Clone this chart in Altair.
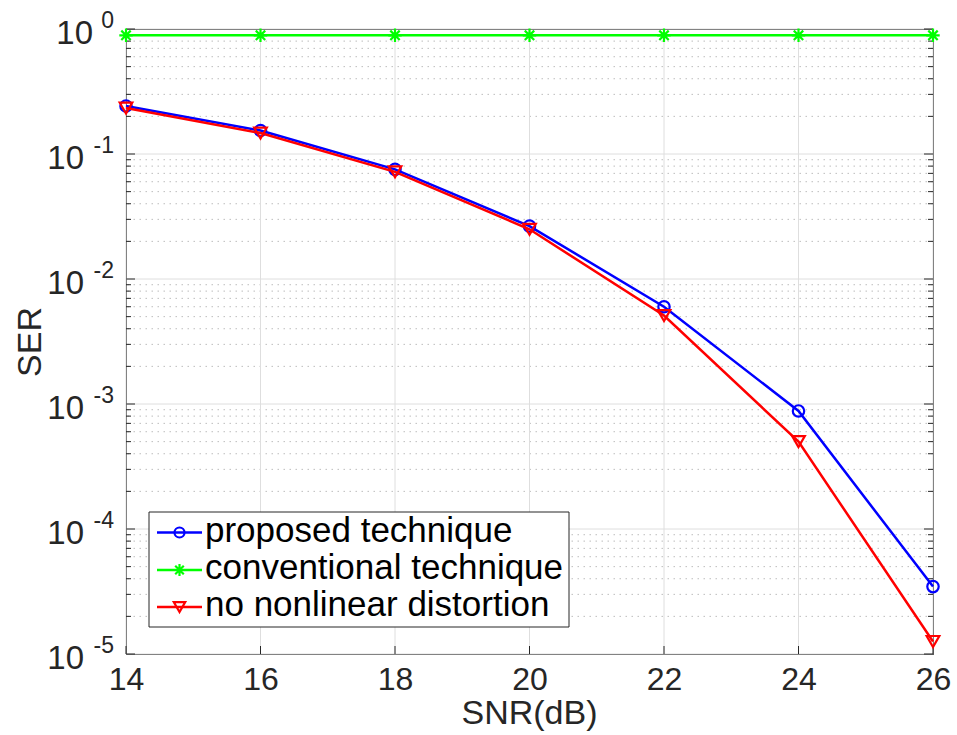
import altair as alt
import pandas as pd

# ---------------- data ----------------
snr = [14, 16, 18, 20, 22, 24, 26]
ser_proposed = [0.242, 0.154, 0.0754, 0.0265, 0.0060, 0.00088, 3.46e-5]
ser_conventional = [0.89, 0.89, 0.89, 0.89, 0.89, 0.89, 0.89]
ser_nonlinear = [0.233, 0.147, 0.072, 0.025, 0.0051, 0.0005, 1.26e-5]

series_names = ["proposed technique", "conventional technique", "no nonlinear distortion"]
series_values = [ser_proposed, ser_conventional, ser_nonlinear]
series_colors = ["#0000ff", "#00ff00", "#ff0000"]
ASTERISK = "M-1,0L1,0M0,-1L0,1M-0.7,-0.7L0.7,0.7M-0.7,0.7L0.7,-0.7"
series_shapes = ["circle", ASTERISK, "triangle-down"]
series_sizes = [130, 180, 160]

x_ticks = [14, 16, 18, 20, 22, 24, 26]
y_decades = [1, 0.1, 0.01, 0.001, 0.0001, 0.00001]
y_exponents = ["0", "-1", "-2", "-3", "-4", "-5"]
y_minor = [m * 10.0 ** k for k in range(-5, 0) for m in range(2, 10)]

# ---------------- layout ----------------
W, H = 807, 625
FONT = "Liberation Sans"
DARK = "#262626"

xs = alt.Scale(domain=[14, 26], nice=False, zero=False)
ys = alt.Scale(type="log", domain=[1e-5, 1], nice=False)
xaxis = alt.Axis(values=x_ticks, ticks=False, domain=False, grid=False, title=None,
                 labelFontSize=32, labelFont=FONT, labelColor=DARK, labelPadding=10,
                 labelFlush=False, labelOverlap=False, format="d")

rows = []
for name, vals in zip(series_names, series_values):
    for s, v in zip(snr, vals):
        rows.append({"snr": s, "ser": v, "series": name})
df = pd.DataFrame(rows)

dec_df = pd.DataFrame({"v": y_decades, "e": y_exponents})
minor_df = pd.DataFrame({"v": y_minor})
xt_df = pd.DataFrame({"x": x_ticks})

Y = lambda f: alt.Y(f, scale=ys, axis=None)
X = lambda f: alt.X(f, scale=xs, axis=xaxis)

layers = []
# minor grid (dotted)
layers.append(alt.Chart(minor_df).mark_rule(color="#bdbdbd", strokeWidth=1, strokeDash=[1.5, 4.5])
              .encode(y=Y("v:Q")))
# major grid
layers.append(alt.Chart(dec_df).mark_rule(color="#dedede", strokeWidth=1).encode(y=Y("v:Q")))
layers.append(alt.Chart(xt_df).mark_rule(color="#dedede", strokeWidth=1).encode(x=X("x:Q")))

# ticks (inside, MATLAB style)
for x0, x1 in [(0, 9), (W - 9, W)]:
    layers.append(alt.Chart(dec_df).mark_rule(color=DARK, strokeWidth=1)
                  .encode(y=Y("v:Q"), x=alt.value(x0), x2=alt.value(x1)))
for x0, x1 in [(0, 5), (W - 5, W)]:
    layers.append(alt.Chart(minor_df).mark_rule(color=DARK, strokeWidth=1)
                  .encode(y=Y("v:Q"), x=alt.value(x0), x2=alt.value(x1)))
for y0, y1 in [(H - 8, H), (0, 8)]:
    layers.append(alt.Chart(xt_df).mark_rule(color=DARK, strokeWidth=1)
                  .encode(x=X("x:Q"), y=alt.value(y0), y2=alt.value(y1)))

# data series
for name, col, shp, sz in zip(series_names, series_colors, series_shapes, series_sizes):
    sub = df[df.series == name]
    layers.append(alt.Chart(sub).mark_line(color=col, strokeWidth=2.5)
                  .encode(x=X("snr:Q"), y=Y("ser:Q")))
    layers.append(alt.Chart(sub).mark_point(shape=shp, size=sz, filled=False, color=col,
                                            strokeWidth=2.2, opacity=1)
                  .encode(x=X("snr:Q"), y=Y("ser:Q")))

# y tick labels: "10" + superscript exponent
layers.append(alt.Chart(dec_df).mark_text(align="right", baseline="alphabetic", dy=-1,
                                          fontSize=23, font=FONT, color=DARK)
              .encode(y=Y("v:Q"), x=alt.value(-12), text="e:N"))
layers.append(alt.Chart(dec_df).transform_filter("length(datum.e) == 1")
              .mark_text(align="right", baseline="alphabetic", dy=15, fontSize=33, font=FONT, color=DARK, text="10")
              .encode(y=Y("v:Q"), x=alt.value(-33)))
layers.append(alt.Chart(dec_df).transform_filter("length(datum.e) == 2")
              .mark_text(align="right", baseline="alphabetic", dy=15, fontSize=33, font=FONT, color=DARK, text="10")
              .encode(y=Y("v:Q"), x=alt.value(-42)))

one = pd.DataFrame({"a": [0]})
# axis titles
layers.append(alt.Chart(one).mark_text(text="SNR(dB)", fontSize=34, font=FONT, color=DARK,
                                       align="center", baseline="alphabetic")
              .encode(x=alt.value(W / 2), y=alt.value(695)))
layers.append(alt.Chart(one).mark_text(text="SER", fontSize=34, font=FONT, color=DARK, angle=270,
                                       align="center", baseline="alphabetic")
              .encode(x=alt.value(-85.5), y=alt.value(313)))

# legend
layers.append(alt.Chart(one).mark_rect(fill="white", stroke=DARK, strokeWidth=1)
              .encode(x=alt.value(23), x2=alt.value(443), y=alt.value(483), y2=alt.value(598)))
row_y = [503.5, 541, 578]
legend_sizes = [100, 150, 130]
for name, col, shp, sz, ry in zip(series_names, series_colors, series_shapes, legend_sizes, row_y):
    layers.append(alt.Chart(one).mark_rule(color=col, strokeWidth=2.5)
                  .encode(x=alt.value(31), x2=alt.value(76), y=alt.value(ry)))
    layers.append(alt.Chart(one).mark_point(shape=shp, size=sz, filled=False, color=col,
                                            strokeWidth=2.2, opacity=1)
                  .encode(x=alt.value(53.5), y=alt.value(ry)))
    layers.append(alt.Chart(pd.DataFrame({"s": [name]})).mark_text(
        align="left", baseline="alphabetic", fontSize=35, font=FONT, color="black")
        .encode(text="s:N", x=alt.value(79), y=alt.value(ry + 9)))

chart = alt.layer(*layers).properties(
    width=W, height=H,
    autosize=alt.AutoSizeParams(type="none"),
    padding={"left": 126, "top": 29, "right": 24, "bottom": 81},
    background="white",
).configure_view(stroke=DARK, strokeWidth=1)

chart.save("out.html", embed_options={"renderer": "svg", "actions": False})
